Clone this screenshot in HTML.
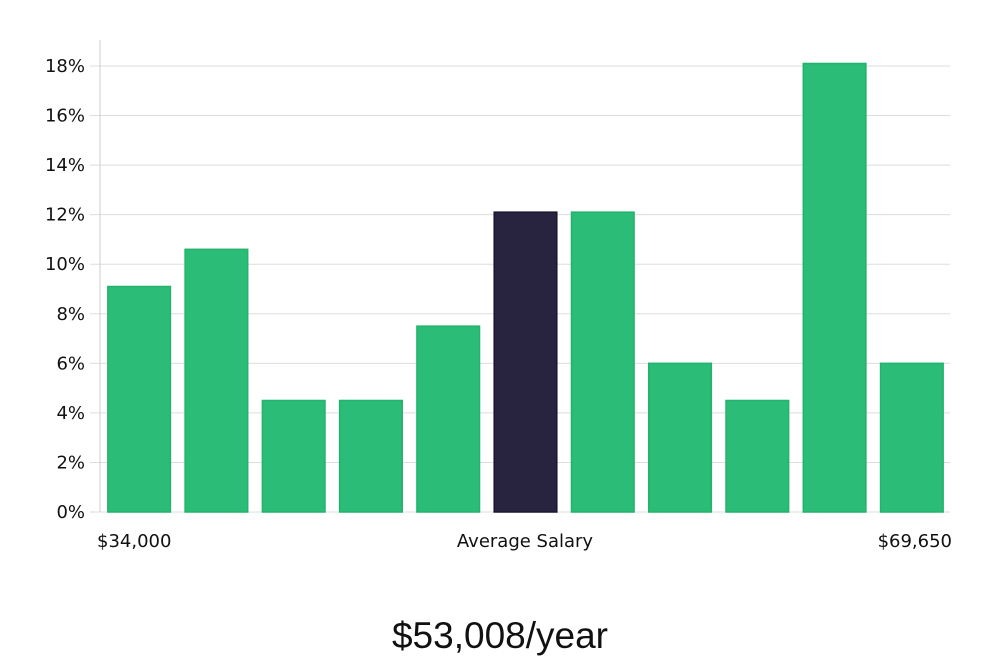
<!DOCTYPE html>
<html><head><meta charset="utf-8"><style>
body{margin:0;background:#fff;width:1000px;height:660px;overflow:hidden}
svg text{font-family:"DejaVu Sans","Liberation Sans",sans-serif}
</style></head><body>
<svg id="chart" width="1000" height="660">
<g id="grid"></g>
<g id="bars"></g>
<line x1="100" y1="40" x2="100" y2="512" stroke="#ccc" stroke-width="1"/>
<g id="yticks"></g>
<text x="97" y="547" font-size="18" fill="#111">$34,000</text>
<text x="525" y="547" font-size="18" fill="#111" text-anchor="middle">Average Salary</text>
<text x="952" y="547" font-size="18" fill="#111" text-anchor="end">$69,650</text>
<text x="500" y="648" font-size="37" fill="#111" text-anchor="middle" style="font-family:'Liberation Sans',sans-serif;font-weight:300">$53,008/year</text>
</svg>
<script>
const values=[9.1,10.6,4.5,4.5,7.5,12.1,12.1,6.0,4.5,18.1,6.0];
const highlightIndex=5;
const yTicks=[0,2,4,6,8,10,12,14,16,18];
const NS="http://www.w3.org/2000/svg";
const x0=100,x1=950,y0=512,yPerUnit=24.78;
const band=(x1-x0)/values.length;
const y=v=>y0-v*yPerUnit;
const grid=document.getElementById('grid'),ticks=document.getElementById('yticks'),bars=document.getElementById('bars');
yTicks.forEach(t=>{
  const l=document.createElementNS(NS,'line');
  l.setAttribute('x1',t===0?90:90);l.setAttribute('x2',x1);
  l.setAttribute('y1',y(t));l.setAttribute('y2',y(t));
  l.setAttribute('stroke','#ddd');
  
  
  grid.appendChild(l);
  const tx=document.createElementNS(NS,'text');
  tx.setAttribute('x',85);tx.setAttribute('y',y(t)+6);
  tx.setAttribute('text-anchor','end');tx.setAttribute('font-size','18');tx.setAttribute('fill','#111');
  tx.textContent=t+'%';
  
  
  ticks.appendChild(tx);
});
values.forEach((v,i)=>{
  const r=document.createElementNS(NS,'rect');
  const w=band*0.81;
  r.setAttribute('x',x0+band*i+(band-w)/2+0.5);
  r.setAttribute('y',y(v));r.setAttribute('width',w);r.setAttribute('height',y0-y(v));
  const hi=i===highlightIndex;
  r.setAttribute('fill',hi?'#28233f':'#2bbd77');
  r.setAttribute('stroke',hi?'#1a1530':'#22b36c');r.setAttribute('stroke-width','1.5');
  
  
  bars.appendChild(r);
});
</script>
</body></html>
